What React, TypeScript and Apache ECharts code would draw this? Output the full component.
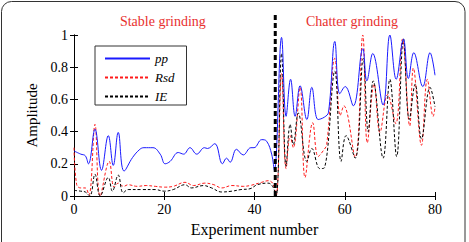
import React, { useEffect, useRef } from "react";
import * as echarts from "echarts";

const seriesNames = ["pp", "Rsd", "IE"];
const xTickStep = 20;
const yTickStep = 0.2;
const regionLabels = ["Stable grinding", "Chatter grinding"];
const transitionX = 44.6;

const ppData: [number, number][] = [
  [0, 0.28], [1.5, 0.26], [2.5, 0.25], [3.2, 0.2], [4.65, 0.415], [6.1, 0.16], [7.6, 0.375],
  [8.7, 0.19], [9.8, 0.395], [11.1, 0.155], [13, 0.24], [14.6, 0.29], [15.5, 0.3], [17.5, 0.3],
  [19.1, 0.26], [20.2, 0.2], [21.3, 0.215], [23.1, 0.27], [24.3, 0.26], [25.7, 0.3], [27.2, 0.26],
  [28.9, 0.3], [29.6, 0.295], [31.2, 0.325], [32.9, 0.2], [33.8, 0.235], [34.6, 0.21], [36, 0.29],
  [37.5, 0.255], [39.2, 0.3], [39.9, 0.3], [41.6, 0.35], [42.7, 0.34], [43.8, 0.26], [44.4, 0.16],
  [46, 0.985], [47, 0.495], [48, 0.725], [49, 0.495], [50.1, 0.685], [51.6, 0.475], [52.7, 0.675],
  [54.1, 0.475], [55.5, 0.49], [56.4, 0.52], [57.8, 0.96], [58.9, 0.635], [60.1, 0.68], [61.9, 0.56],
  [64, 0.915], [64.9, 0.715], [66.2, 0.885], [68.5, 0.565], [70, 1.0], [71.4, 0.725], [73, 0.975],
  [74.1, 0.73], [75.3, 0.89], [77.3, 0.68], [78.9, 0.89], [80, 0.75],
];

const rsdData: [number, number][] = [
  [0, 0.3], [0.6, 0.07], [1.5, 0.05], [2.5, 0.05], [3.3, 0.005], [4.65, 0.445], [5.8, 0.0],
  [7.8, 0.215], [8.9, 0.055], [9.8, 0.08], [11, 0.06], [12, 0.07], [14, 0.06], [16, 0.065],
  [18, 0.06], [20, 0.055], [22, 0.06], [24.6, 0.085], [26.5, 0.065], [29, 0.08], [31, 0.07],
  [32.7, 0.05], [35, 0.065], [37.5, 0.06], [39, 0.065], [41.6, 0.085], [43, 0.095], [44, 0.08],
  [44.8, 0.005], [46, 0.76], [47, 0.17], [47.9, 0.375], [48.6, 0.3], [50.1, 0.675], [51.2, 0.115],
  [52.9, 0.455], [54.1, 0.245], [55.2, 0.28], [56, 0.32], [57.8, 0.855], [59.0, 0.5], [59.8, 0.56],
  [62.3, 0.24], [64, 1.0], [65, 0.33], [66.5, 0.695], [67.8, 0.395], [69.5, 0.63], [71.3, 0.45],
  [72.8, 0.975], [74.4, 0.435], [75.2, 0.795], [77, 0.315], [78.3, 0.725], [79.6, 0.495], [80, 0.55],
];

const ieData: [number, number][] = [
  [0, 0.035], [1.5, 0.03], [2.5, 0.025], [3.5, 0.0], [4.65, 0.135], [5.8, 0.0], [7.6, 0.115],
  [8.5, 0.03], [9.8, 0.13], [10.9, 0.02], [12, 0.04], [15, 0.04], [18, 0.04], [20, 0.03],
  [22, 0.04], [24.6, 0.07], [26, 0.05], [28.7, 0.065], [30.5, 0.05], [32.7, 0.025], [35, 0.03],
  [37, 0.04], [39, 0.045], [40.6, 0.07], [43, 0.08], [44, 0.06], [44.8, 0.0], [46, 0.885],
  [47, 0.185], [47.9, 0.445], [48.6, 0.32], [49.7, 0.515], [51.6, 0.215], [52.7, 0.295],
  [54.5, 0.17], [55.5, 0.175], [57.8, 0.775], [59.2, 0.215], [60.3, 0.375], [62.3, 0.235],
  [64.1, 0.855], [65.2, 0.4], [66.3, 0.715], [68.5, 0.235], [70, 0.725], [71.5, 0.245],
  [73, 0.975], [74.3, 0.475], [75.6, 0.695], [77, 0.355], [78.9, 0.675], [80, 0.555],
];

const FONT = "Liberation Serif";

export default function App() {
  const ref = useRef<HTMLDivElement>(null);
  useEffect(() => {
    if (!ref.current) return;
    const chart = echarts.init(ref.current, null, { renderer: "svg" });
    const axisCommon = {
      axisLine: { show: true, lineStyle: { color: "#000", width: 1 } },
      axisTick: { show: true, inside: true, length: 4, lineStyle: { color: "#000" } },
      splitLine: { show: false },
    };
    const option: any = {
      animation: false,
      backgroundColor: "#fff",
      textStyle: { fontFamily: FONT },
      grid: { left: 74, right: 34, top: 35, bottom: 39 },
      xAxis: [
        {
          type: "value", min: 0, max: 80, interval: xTickStep, position: "bottom",
          ...axisCommon,
          axisLabel: { color: "#000", fontFamily: FONT, fontSize: 14, margin: 6 },
          name: "Experiment number", nameLocation: "middle", nameGap: 25,
          nameTextStyle: { color: "#000", fontFamily: FONT, fontSize: 16 },
        },
        {
          type: "value", min: 0, max: 80, interval: xTickStep, position: "top",
          ...axisCommon, axisLabel: { show: false },
        },
      ],
      yAxis: [
        {
          type: "value", min: 0, max: 1, interval: yTickStep, position: "left",
          ...axisCommon,
          axisLabel: { color: "#000", fontFamily: FONT, fontSize: 14, margin: 6 },
          name: "Amplitude", nameLocation: "middle", nameGap: 34,
          nameTextStyle: { color: "#000", fontFamily: FONT, fontSize: 15 },
        },
        {
          type: "value", min: 0, max: 1, interval: yTickStep, position: "right",
          ...axisCommon, axisLabel: { show: false },
        },
      ],
      legend: {
        orient: "vertical", left: 95, top: 46,
        padding: [6, 12, 2, 9],
        itemWidth: 45, itemHeight: 14, itemGap: 6,
        borderColor: "#333", borderWidth: 1, backgroundColor: "#fff",
        itemStyle: { opacity: 0 },
        textStyle: { fontFamily: FONT, fontSize: 13, fontStyle: "italic", color: "#000" },
        data: seriesNames,
      },
      series: [
        {
          name: seriesNames[0], type: "line", data: ppData, smooth: 0.4, symbol: "none",
          lineStyle: { color: "#1a1aff", width: 1 }, itemStyle: { color: "#1a1aff" }, z: 3,
        },
        {
          name: seriesNames[1], type: "line", data: rsdData, smooth: 0.4, symbol: "none",
          lineStyle: { color: "#ff1a1a", width: 1, type: [3, 2] }, itemStyle: { color: "#ff1a1a" }, z: 2,
        },
        {
          name: seriesNames[2], type: "line", data: ieData, smooth: 0.4, symbol: "none",
          lineStyle: { color: "#000", width: 1, type: [3, 2] }, itemStyle: { color: "#000" }, z: 2,
        },
      ],
    };
    chart.setOption(option);
    const lx = chart.convertToPixel({ xAxisIndex: 0 }, transitionX) as number;
    const yBottom = chart.convertToPixel({ yAxisIndex: 0 }, 0) as number;
    const l1 = chart.convertToPixel({ xAxisIndex: 0 }, 19.7) as number;
    const l2 = chart.convertToPixel({ xAxisIndex: 0 }, 61.6) as number;
    chart.setOption({
      graphic: [
        {
          type: "rect", silent: true, z: -1,
          shape: { x: 1.5, y: 1.5, width: 463.5, height: 270, r: 10 },
          style: { fill: "none", stroke: "#333", lineWidth: 1 },
        },
        {
          type: "line", z: 10,
          shape: { x1: lx, y1: 15, x2: lx, y2: yBottom },
          style: { stroke: "#000", lineWidth: 3, lineDash: [5, 3] },
        },
        {
          type: "text", x: l1, y: 14,
          style: { text: regionLabels[0], fill: "#e8312f", fontFamily: FONT, fontSize: 14, align: "center" },
        },
        {
          type: "text", x: l2, y: 14,
          style: { text: regionLabels[1], fill: "#e8312f", fontFamily: FONT, fontSize: 14, align: "center" },
        },
      ],
    });
    return () => chart.dispose();
  }, []);
  return (
    <div>
      <div
        ref={ref}
        style={{ position: "absolute", left: 0, top: 0, width: 469, height: 242, background: "#fff" }}
      />
    </div>
  );
}
